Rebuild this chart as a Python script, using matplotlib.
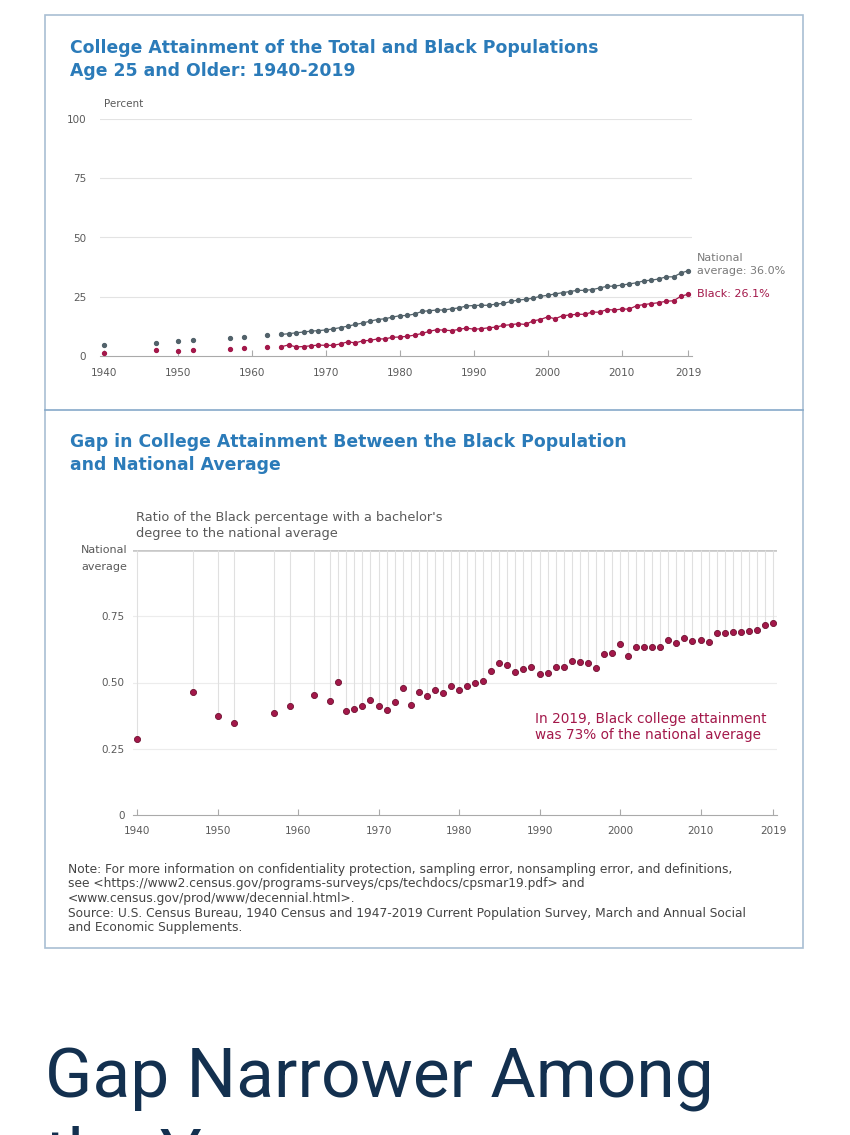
import matplotlib
matplotlib.use("Agg")
import matplotlib.pyplot as plt
from matplotlib.lines import Line2D
from matplotlib.patches import Rectangle

# Data
years = [1940, 1947, 1950, 1952, 1957, 1959, 1962,
         1964, 1965, 1966, 1967, 1968, 1969, 1970, 1971, 1972, 1973,
         1974, 1975, 1976, 1977, 1978, 1979, 1980, 1981, 1982, 1983,
         1984, 1985, 1986, 1987, 1988, 1989, 1990, 1991, 1992, 1993,
         1994, 1995, 1996, 1997, 1998, 1999, 2000, 2001, 2002, 2003,
         2004, 2005, 2006, 2007, 2008, 2009, 2010, 2011, 2012, 2013,
         2014, 2015, 2016, 2017, 2018, 2019]

total_pct = [4.6, 5.4, 6.2, 6.9, 7.5, 8.1, 8.9,
             9.1, 9.4, 9.8, 10.1, 10.5, 10.7, 11.0, 11.4, 12.0, 12.6,
             13.3, 13.9, 14.7, 15.4, 15.7, 16.4, 17.0, 17.1, 17.7, 18.8,
             19.1, 19.4, 19.4, 19.9, 20.3, 21.1, 21.3, 21.4, 21.4, 21.9,
             22.2, 23.0, 23.6, 23.9, 24.4, 25.2, 25.6, 26.2, 26.7, 27.2,
             27.7, 27.7, 28.0, 28.7, 29.4, 29.5, 29.9, 30.4, 30.9, 31.7,
             32.0, 32.5, 33.4, 33.4, 35.0, 36.0]

black_pct = [1.3, 2.5, 2.3, 2.4, 2.9, 3.3, 4.0,
             3.9, 4.7, 3.8, 4.0, 4.3, 4.6, 4.5, 4.5, 5.1, 6.0,
             5.5, 6.4, 6.6, 7.2, 7.2, 7.9, 8.0, 8.3, 8.8, 9.5,
             10.4, 11.1, 10.9, 10.7, 11.2, 11.8, 11.3, 11.5, 11.9, 12.2,
             12.9, 13.2, 13.6, 13.3, 14.8, 15.4, 16.5, 15.7, 17.0, 17.3,
             17.6, 17.6, 18.5, 18.5, 19.6, 19.4, 19.8, 19.8, 21.2, 21.7,
             22.1, 22.5, 23.1, 23.3, 25.2, 26.1]

ratio = [0.287, 0.464, 0.372, 0.347, 0.384, 0.411, 0.453,
         0.431, 0.502, 0.391, 0.399, 0.411, 0.433, 0.410, 0.397, 0.426, 0.478,
         0.415, 0.463, 0.450, 0.470, 0.462, 0.486, 0.472, 0.485, 0.497, 0.507,
         0.545, 0.575, 0.565, 0.538, 0.550, 0.560, 0.531, 0.535, 0.557, 0.557,
         0.582, 0.576, 0.575, 0.556, 0.606, 0.613, 0.647, 0.600, 0.635, 0.635,
         0.635, 0.635, 0.660, 0.648, 0.668, 0.658, 0.660, 0.652, 0.685, 0.685,
         0.691, 0.691, 0.693, 0.698, 0.718, 0.723]

x_ticks = [1940, 1950, 1960, 1970, 1980, 1990, 2000, 2010, 2019]
top_yticks = [0, 25, 50, 75, 100]
bottom_yticks = [0, 0.25, 0.5, 0.75]
bottom_ylabels = ["0", "0.25", "0.50", "0.75"]

first_annual = 1964   # line connects points from here on

W, H = 850, 1135
GRAY = "#52626a"
RED = "#a3184a"
BLUE = "#2b7bb9"
TXT = "#5a5a5a"

plt.rcParams['font.family'] = ['DejaVu Sans']

fig = plt.figure(figsize=(W / 100, H / 100), dpi=100)
fig.patch.set_facecolor("white")


def rect(l, t, r, b):
    return [l / W, 1 - b / H, (r - l) / W, (b - t) / H]


def ftext(x, y, s, **kw):
    fig.text(x / W, 1 - y / H, s, **kw)


# frame around the two panels
fig.patches.append(Rectangle((45 / W, 1 - 948 / H), 758 / W, 933 / H,
                             transform=fig.transFigure, fill=False,
                             edgecolor="#a9bfd3", linewidth=1.2))
fig.lines.append(Line2D([45 / W, 803 / W], [1 - 410 / H, 1 - 410 / H],
                        transform=fig.transFigure, color="#86a9c9", linewidth=1.2))

# ---------------- top panel ----------------
ftext(70, 53, "College Attainment of the Total and Black Populations",
      color=BLUE, fontsize=12.4, fontweight="bold", va="baseline")
ftext(70, 76, "Age 25 and Older: 1940-2019",
      color=BLUE, fontsize=12.4, fontweight="bold", va="baseline")
ftext(104, 104, "Percent", color=TXT, fontsize=7.5, va="center")

ax1 = fig.add_axes(rect(100, 119, 692, 356))
ax1.set_xlim(1939.5, 2019.5)
ax1.set_ylim(0, 100)
for v in top_yticks[1:]:
    ax1.axhline(v, color="#e3e3e3", linewidth=0.8, zorder=0)
ax1.set_yticks(top_yticks)
ax1.set_yticklabels([str(v) for v in top_yticks])
ax1.set_xticks(x_ticks)
ax1.tick_params(axis="y", length=0, labelsize=7.5, labelcolor=TXT, pad=10)
ax1.tick_params(axis="x", direction="in", length=4, color="#aaaaaa",
                labelsize=7.5, labelcolor=TXT, pad=9)
for s in ["top", "right", "left"]:
    ax1.spines[s].set_visible(False)
ax1.spines["bottom"].set_color("#aaaaaa")

split = years.index(first_annual)
for vals, col in [(total_pct, GRAY), (black_pct, RED)]:
    ax1.plot(years[split:], vals[split:], color=col, linewidth=0.9,
             marker="o", markersize=2.8, clip_on=False, zorder=3)
    ax1.plot(years[:split], vals[:split], linestyle="none", color=col,
             marker="o", markersize=2.8, clip_on=False, zorder=3)

ax1.annotate("National\naverage: %.1f%%" % total_pct[-1], (years[-1], total_pct[-1]),
             xytext=(6, -4), textcoords="offset points", color="#7a7a7a",
             fontsize=8, va="bottom", ha="left", linespacing=1.35, annotation_clip=False)
ax1.annotate("Black: %.1f%%" % black_pct[-1], (years[-1], black_pct[-1]),
             xytext=(6, 0), textcoords="offset points", color=RED,
             fontsize=8, va="center", ha="left", annotation_clip=False)

# ---------------- bottom panel ----------------
ftext(70, 447, "Gap in College Attainment Between the Black Population",
      color=BLUE, fontsize=12.4, fontweight="bold", va="baseline")
ftext(70, 470, "and National Average",
      color=BLUE, fontsize=12.4, fontweight="bold", va="baseline")
ftext(136, 525.5, "Ratio of the Black percentage with a bachelor's\ndegree to the national average",
      color=TXT, fontsize=9.3, va="center", linespacing=1.2)
ftext(127, 550, "National", color=TXT, fontsize=8, ha="right", va="center")
ftext(127, 567, "average", color=TXT, fontsize=8, ha="right", va="center")

ax2 = fig.add_axes(rect(133, 550, 777, 815))
ax2.set_xlim(1939.5, 2019.5)
ax2.set_ylim(0, 1)
for v in bottom_yticks[1:]:
    ax2.axhline(v, color="#ececec", linewidth=0.8, zorder=0)
ax2.axhline(1.0, color="#c8c8c8", linewidth=2.6, zorder=1)
ax2.vlines(years, ratio, 1.0, color="#e0e0e0", linewidth=0.8, zorder=1)
ax2.plot(years, ratio, linestyle="none", marker="o", markersize=4.4,
         color=RED, markeredgecolor="#6e1030", markeredgewidth=0.6,
         clip_on=False, zorder=3)
ax2.set_yticks(bottom_yticks)
ax2.set_yticklabels(bottom_ylabels)
ax2.set_xticks(x_ticks)
ax2.tick_params(axis="y", length=0, labelsize=7.5, labelcolor=TXT, pad=6)
ax2.tick_params(axis="x", direction="in", length=4, color="#aaaaaa",
                labelsize=7.5, labelcolor=TXT, pad=8)
for s in ["top", "right", "left"]:
    ax2.spines[s].set_visible(False)
ax2.spines["bottom"].set_color("#aaaaaa")

ax2.text(1989.4, 0.332, "In 2019, Black college attainment\nwas 73% of the national average",
         color=RED, fontsize=9.8, ha="left", va="center", linespacing=1.2)

# notes
notes = ("Note: For more information on confidentiality protection, sampling error, nonsampling error, and definitions,\n"
         "see <https://www2.census.gov/programs-surveys/cps/techdocs/cpsmar19.pdf> and\n"
         "<www.census.gov/prod/www/decennial.html>.\n"
         "Source: U.S. Census Bureau, 1940 Census and 1947-2019 Current Population Survey, March and Annual Social\n"
         "and Economic Supplements.")
ftext(68, 863, notes, color="#444444", fontsize=8.8, va="top", linespacing=1.15)

# page heading below the figure (second line is cut off by the page edge, as in the reference)
ftext(45, 1098, "Gap Narrower Among", color="#13304f", fontsize=50,
      va="baseline", family=["Roboto", "DejaVu Sans"])
ftext(45, 1178, "the Young", color="#13304f", fontsize=50,
      va="baseline", family=["Roboto", "DejaVu Sans"])

fig.savefig("out.png", dpi=100)
